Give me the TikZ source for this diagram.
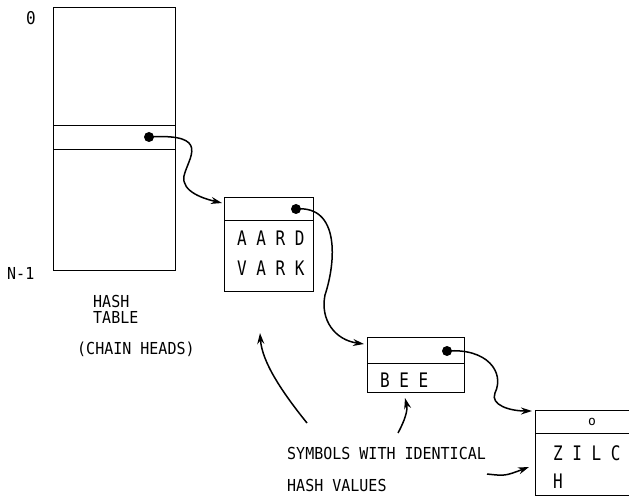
\documentclass[tikz,border=0pt]{standalone}
\usepackage{fontspec}
\usepackage{graphicx}
\newfontfamily\labfont{DejaVu Sans Mono}
\usetikzlibrary{arrows.meta}
\newcommand{\talltext}[1]{\scalebox{1}[1.25]{#1}}
\newcommand{\labtext}[1]{\scalebox{1}[1.1]{#1}}
\begin{document}
\begin{tikzpicture}[x=1pt,y=-1pt,
  box/.style={draw, line width=1pt, inner sep=0, anchor=north west},
  dot/.style={circle, fill, inner sep=0, minimum size=10pt},
  lab/.style={font=\labfont\fontsize{15}{15}\selectfont, inner sep=0, anchor=base west},
  big/.style={font=\labfont\fontsize{16}{16}\selectfont, inner sep=0, anchor=base west},
  arr/.style={line width=1.5pt, -{Stealth[length=11pt,width=7pt]}}]
\useasboundingbox (0,0) rectangle (629,497);
\clip (0,0) rectangle (629,497);
% hash table
\node[box, minimum width=122pt, minimum height=263pt] (table) at (53,7) {};
\draw[line width=1pt] (table.west |- 0,126) -- (table.east |- 0,126);
\draw[line width=1pt] (table.west |- 0,150) -- (table.east |- 0,150);
\node[dot] (hd) at (149,137) {};
\node[lab, font=\labfont\fontsize{16}{16}\selectfont] (zero) at (26,25) {\labtext{0}};
\node[lab, font=\labfont\fontsize{15}{15}\selectfont] (nm1) at (7,279) {\labtext{N-1}};
\node[lab] (hash) at (93,307) {\labtext{HASH}};
\node[lab] (tabl) at (93,323) {\labtext{TABLE}};
\node[lab] (chain) at (77,354) {\labtext{(CHAIN HEADS)}};
% AARDVARK
\node[box, minimum width=89pt, minimum height=94pt] (aard) at (224,197) {};
\draw[line width=1pt] (aard.west |- 0,221) -- (aard.east |- 0,221);
\node[dot] (ad) at (296,209) {};
\node[big] (aardt) at (237,245) {\talltext{A A R D}};
\node[big] (vark) at (237,275) {\talltext{V A R K}};
% BEE
\node[box, minimum width=97pt, minimum height=55pt] (bee) at (367,337) {};
\draw[line width=1pt] (bee.west |- 0,363) -- (bee.east |- 0,363);
\node[dot] (bd) at (447,351) {};
\node[big] (beet) at (380,387) {\talltext{B E E}};
% ZILCH
\node[box, minimum width=130pt, minimum height=85pt] (zil) at (535,410) {};
\draw[line width=1pt] (zil.west |- 0,433) -- (zil.east |- 0,433);
\node[font=\labfont\fontsize{13}{13}\selectfont, inner sep=0] (zo) at (592,422) {o};
\node[big] (zilc) at (553,460) {\talltext{Z I L C}};
\node[big] (zh) at (553,488) {\talltext{H}};
% captions
\node[lab] (sym) at (287,459) {\labtext{SYMBOLS WITH IDENTICAL}};
\node[lab] (hv) at (287,491) {\labtext{HASH VALUES}};
% chain links
\coordinate (t1) at (222,203);
\coordinate (t2) at (364,344);
\coordinate (t3) at (532,411);
\draw[arr] (hd.center) .. controls (212,133) and (188,158) .. (184,176)
  .. controls (181,192) and (205,199) .. (t1);
\draw[arr] (ad.center) .. controls (340,205) and (336,262) .. (325,295)
  .. controls (320,320) and (335,340) .. (t2);
\draw[arr] (bd.center) .. controls (487,348) and (505,372) .. (495,393)
  .. controls (490,405) and (510,411) .. (t3);
% pointer arrows
\coordinate (s1) at (307,423);
\coordinate (e1) at (260,333);
\coordinate (s2) at (398,433);
\coordinate (e2) at (405,398);
\coordinate (s3) at (487,474);
\coordinate (e3) at (529,467);
\draw[arr] (s1) .. controls (282,392) and (262,362) .. (e1);
\draw[arr] (s2) .. controls (405,420) and (408,410) .. (e2);
\draw[arr] (s3) .. controls (505,476) .. (e3);
\end{tikzpicture}
\end{document}
